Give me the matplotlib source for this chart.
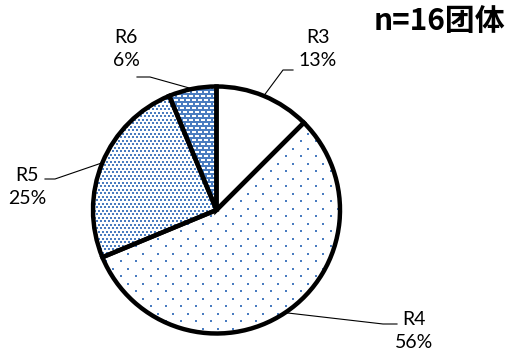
import numpy as np
import matplotlib.pyplot as plt

# 団体数の内訳 (n=16)
names = ["R3", "R4", "R5", "R6"]
counts = [2, 9, 4, 1]
title = "n=16团体"

W, H = 507, 361
BLUE = "#4A7CC0"


def px(x, y):
    # pixel coordinates (origin top-left) -> data coordinates
    return x, H - y


def texture(ax, wedge, xs, ys, offset, size, marker, color):
    gx, gy = [], []
    for i, y in enumerate(ys):
        sh = offset if i % 2 else 0.0
        for x in xs:
            gx.append(x + sh)
            gy.append(y)
    sc = ax.scatter(gx, gy, s=size, marker=marker, c=color, linewidths=0, zorder=2)
    sc.set_clip_path(wedge)


fig = plt.figure(figsize=(W / 100, H / 100), dpi=100)
ax = fig.add_axes([0, 0, 1, 1])

cx, cy = px(216.5, 210)
r = 123.5
fills = ["white", "white", "white", BLUE]
wedges, _ = ax.pie(counts, startangle=90, counterclock=False, center=(cx, cy),
                   radius=r, colors=fills, wedgeprops=dict(linewidth=0, zorder=1))
outline, _ = ax.pie(counts, startangle=90, counterclock=False, center=(cx, cy),
                    radius=r, colors=["none"] * 4,
                    wedgeprops=dict(edgecolor="black", linewidth=3.2, zorder=3))

x0, x1 = cx - r - 10, cx + r + 10
y0, y1 = cy - r - 10, cy + r + 10
# R4: sparse dots
texture(ax, wedges[1], np.arange(x0, x1, 15), np.arange(y0, y1, 7.5), 7.5,
        2.1, "s", BLUE)
# R5: dense dots
texture(ax, wedges[2], np.arange(x0, x1, 4), np.arange(y0, y1, 3.5), 2,
        2.1, "s", BLUE)
# R6: white dashes on blue
dash = [(-1.5, -0.5), (1.5, -0.5), (1.5, 0.5), (-1.5, 0.5)]
texture(ax, wedges[3], np.arange(x0, x1, 6), np.arange(y0, y1, 4), 3,
        4.7, dash, "white")

# labels with leader lines
total = sum(counts)
label_pos = {"R3": (318, 49), "R4": (414, 331), "R5": (27, 187), "R6": (126, 49)}
elbows = {
    "R3": [(283, 70), (293, 70)],
    "R4": [(383, 324), (397, 324)],
    "R5": [(55, 179), (45, 179)],
    "R6": [(150, 77), (137, 77)],
}
for name, cnt, w in zip(names, counts, wedges):
    mid = np.deg2rad((w.theta1 + w.theta2) / 2)
    ex, ey = cx + r * np.cos(mid), cy + r * np.sin(mid)
    pts = [(ex, ey)] + [px(*p) for p in elbows[name]]
    ax.plot([p[0] for p in pts], [p[1] for p in pts], color="black", lw=0.8, zorder=4)
    pct = int(cnt / total * 100 + 0.5)
    tx, ty = px(*label_pos[name])
    ax.text(tx, ty, f"{name}\n{pct}%", ha="center", va="center", fontsize=14,
            family="Lato", linespacing=1.45, color="black")

tx, ty = px(505, 21)
ax.text(tx, ty, title, ha="right", va="center", fontsize=21.5, fontweight="bold",
        family=["Noto Sans CJK JP", "DejaVu Sans"])

ax.set_xlim(0, W)
ax.set_ylim(0, H)
ax.set_aspect("equal")
ax.axis("off")
fig.savefig("out.png", dpi=100)
